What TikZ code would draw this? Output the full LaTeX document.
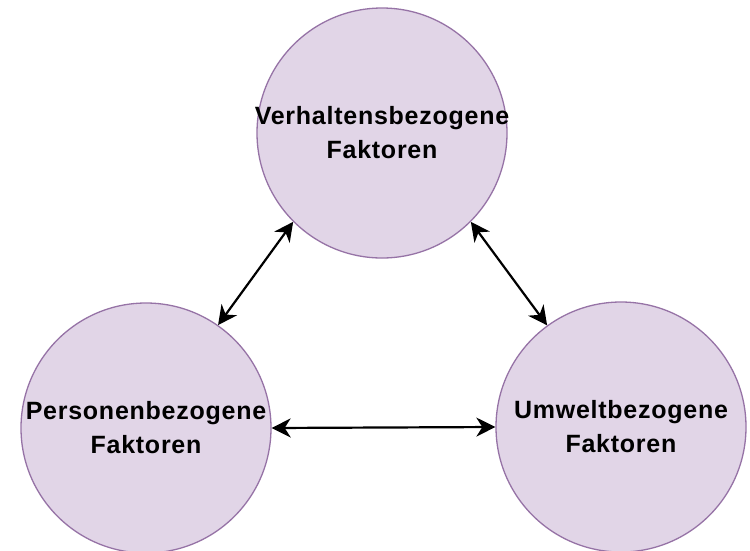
\documentclass[tikz,border=0pt]{standalone}
\usepackage{fontspec}
\newfontfamily\kreisfont[LetterSpace=3,BoldFont={Liberation Sans Bold}]{Liberation Sans}
\usetikzlibrary{arrows.meta}
\definecolor{kreisfill}{HTML}{E1D5E7}
\definecolor{kreisrand}{HTML}{9673A6}

\begin{document}
\begin{tikzpicture}[
    x=1pt, y=-1pt,
    kreis/.style={
        draw=kreisrand,
        fill=kreisfill,
        line width=1.3pt,
        shape=circle,
        minimum size=250pt,
        inner sep=-12pt, %keeps the long words from growing the circle
        align=center,
        font={\kreisfont\bfseries\fontsize{25}{34}\selectfont},
    },
    pfeil/.style={
        line width=2.2pt,
        {Stealth[length=19pt,width=19pt,inset=6pt]}-{Stealth[length=19pt,width=19pt,inset=6pt]},
    },
]

\useasboundingbox (0,0) rectangle (750,550);

\node[kreis] (verh) at (382,133) {Verhaltensbezogene\\Faktoren};
\node[kreis] (pers) at (146,428) {Personenbezogene\\Faktoren};
\node[kreis] (umw)  at (621,427) {Umweltbezogene\\Faktoren};

\draw[pfeil] (pers.55)  -- (verh.225);
\draw[pfeil] (verh.315) -- (umw.126);
\draw[pfeil] (pers.0)   -- (umw.180);

\end{tikzpicture}
\end{document}
